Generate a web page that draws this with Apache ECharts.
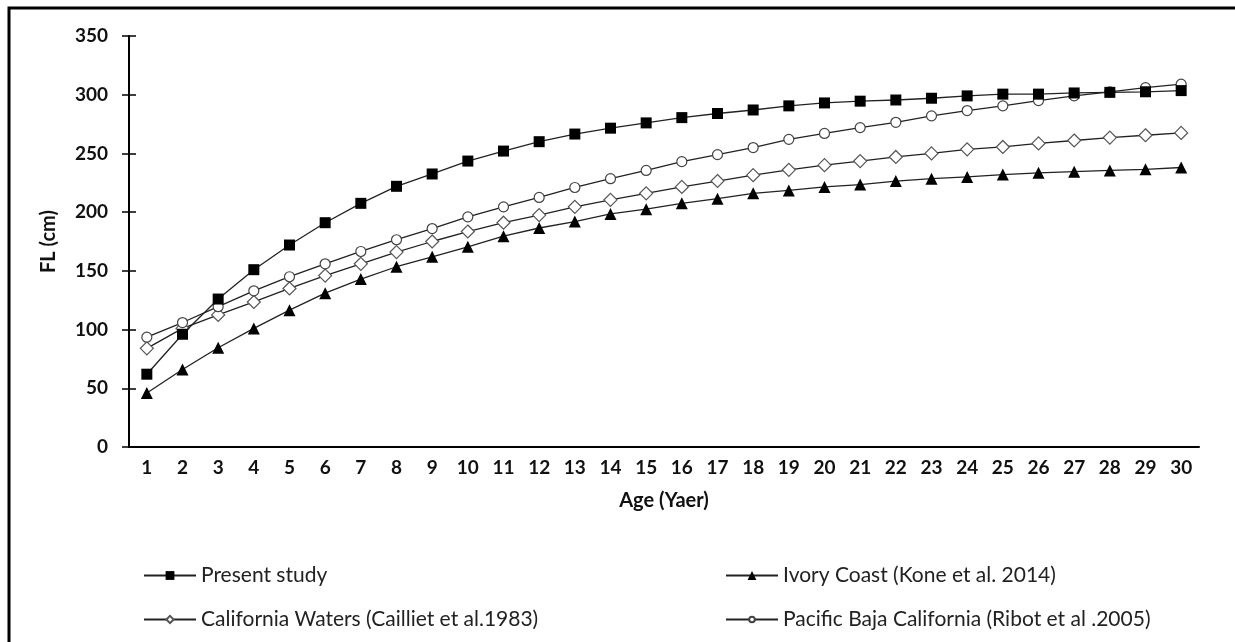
<!DOCTYPE html>
<html>
<head>
<meta charset="utf-8">
<script src="https://cdn.jsdelivr.net/npm/echarts@6/dist/echarts.min.js"></script>
<style>
    html, body { margin: 0; padding: 0; background: #fff; }
    #chart { width: 1235px; height: 642px; }
</style>
</head>
<body>
<div id="chart"></div>
<script>
    // ages 1..30
    const ages = ['1','2','3','4','5','6','7','8','9','10','11','12','13','14','15','16','17','18','19','20','21','22','23','24','25','26','27','28','29','30'];

    const presentStudy = [62, 96, 126, 151, 172, 191, 207.5, 222, 232.5, 243.5, 252, 260, 266.5, 271.5, 276, 280.5, 284, 287, 290.5, 293, 294.5, 295.5, 297, 299, 300.5, 300.5, 301.5, 302, 302.5, 303.5];
    const ivoryCoast = [46, 66, 84.5, 101, 116.5, 131, 143, 153.5, 162, 170.5, 179.5, 186.5, 192, 198.5, 202.5, 207.5, 211.5, 216, 218.5, 221.5, 223.5, 226.5, 228.5, 230, 232, 233.5, 234.5, 235.5, 236.5, 238];
    const californiaWaters = [84, 101, 112.5, 123.5, 135, 146, 156, 166, 175, 183.5, 191, 197.5, 204.5, 210.5, 216, 221.5, 226.5, 231.5, 236, 240, 243.5, 247, 250, 253.5, 255.5, 258.5, 261, 263.5, 265.5, 267.5];
    const pacificBaja = [93.5, 106, 119.5, 133, 145, 156, 166.5, 176.5, 186, 196, 204.5, 212.5, 221, 228.5, 235.5, 243, 249, 255, 262, 267, 272, 276.5, 282, 286.5, 290.5, 295, 299, 302.5, 306, 309];

    const names = ['Present study', 'Ivory Coast (Kone et al. 2014)', 'California Waters (Cailliet et al.1983)', 'Pacific Baja California (Ribot et al .2005)'];

    const myChart = echarts.init(document.getElementById('chart'));
    const fontFam = 'Lato, "Open Sans", sans-serif';

    // one legend per entry so each can sit where the original puts it
    function legendAt(name, left, top, iconSize) {
        return {
            data: [name],
            left: left,
            top: top,
            itemWidth: 52,
            itemHeight: iconSize,
            itemGap: 6,
            selectedMode: false,
            textStyle: { fontFamily: fontFam, fontSize: 21, color: '#222' }
        };
    }

    const lineStyle = { color: '#222', width: 1.3 };

    myChart.setOption({
        animation: false,
        backgroundColor: '#fff',
        graphic: [{
            type: 'rect',
            shape: { x: 9, y: 8, width: 1300, height: 700 },
            style: { fill: 'none', stroke: '#000', lineWidth: 3 },
            z: 100
        }],
        grid: { left: 129, right: 36, top: 36, bottom: 195 },
        legend: [
            legendAt(names[0], 138, 560, 11),
            legendAt(names[1], 720, 560, 11),
            legendAt(names[2], 138, 604, 9),
            legendAt(names[3], 720, 604, 7)
        ],
        xAxis: [{
            type: 'category',
            data: ages,
            boundaryGap: true,
            name: 'Age (Yaer)',
            nameLocation: 'middle',
            nameGap: 44,
            nameTextStyle: { fontFamily: fontFam, fontSize: 20, fontWeight: 'bold', color: '#111' },
            axisLine: { lineStyle: { color: '#000', width: 2 } },
            axisTick: { length: 7, lineStyle: { color: '#000', width: 1.5 } },
            axisLabel: { fontFamily: fontFam, fontSize: 19, fontWeight: 'bold', color: '#111', margin: 11, interval: 0 },
            splitLine: { show: false }
        }, {
            type: 'category',
            data: ages,
            position: 'bottom',
            boundaryGap: true,
            axisLine: { show: false },
            axisTick: { inside: true, length: 7, lineStyle: { color: '#000', width: 1.5 } },
            axisLabel: { show: false },
            splitLine: { show: false }
        }],
        yAxis: [{
            type: 'value',
            min: 0,
            max: 350,
            interval: 50,
            name: 'FL (cm)',
            nameLocation: 'middle',
            nameGap: 70,
            nameTextStyle: { fontFamily: fontFam, fontSize: 20, fontWeight: 'bold', color: '#111' },
            axisLine: { show: true, lineStyle: { color: '#000', width: 2 } },
            axisTick: { show: true, length: 7, lineStyle: { color: '#000', width: 1.5 } },
            axisLabel: { fontFamily: fontFam, fontSize: 19, fontWeight: 'bold', color: '#111', margin: 21 },
            splitLine: { show: false }
        }, {
            type: 'value',
            min: 0,
            max: 350,
            interval: 50,
            position: 'left',
            axisLine: { show: false },
            axisTick: { show: true, inside: true, length: 7, lineStyle: { color: '#000', width: 1.5 } },
            axisLabel: { show: false },
            splitLine: { show: false }
        }],
        series: [
            {
                name: names[0],
                type: 'line',
                data: presentStudy,
                symbol: 'rect',
                symbolSize: 11,
                itemStyle: { color: '#000', borderColor: '#000', borderWidth: 0 },
                lineStyle: lineStyle,
                z: 5
            },
            {
                name: names[1],
                type: 'line',
                data: ivoryCoast,
                symbol: 'triangle',
                symbolSize: 12,
                itemStyle: { color: '#000', borderColor: '#000', borderWidth: 0 },
                lineStyle: lineStyle
            },
            {
                name: names[2],
                type: 'line',
                data: californiaWaters,
                symbol: 'diamond',
                symbolSize: 13,
                itemStyle: { color: '#fff', borderColor: '#555', borderWidth: 1.2 },
                lineStyle: lineStyle
            },
            {
                name: names[3],
                type: 'line',
                data: pacificBaja,
                symbol: 'circle',
                symbolSize: 10,
                itemStyle: { color: '#fff', borderColor: '#444', borderWidth: 1.2 },
                lineStyle: lineStyle
            }
        ]
    });
</script>
</body>
</html>
